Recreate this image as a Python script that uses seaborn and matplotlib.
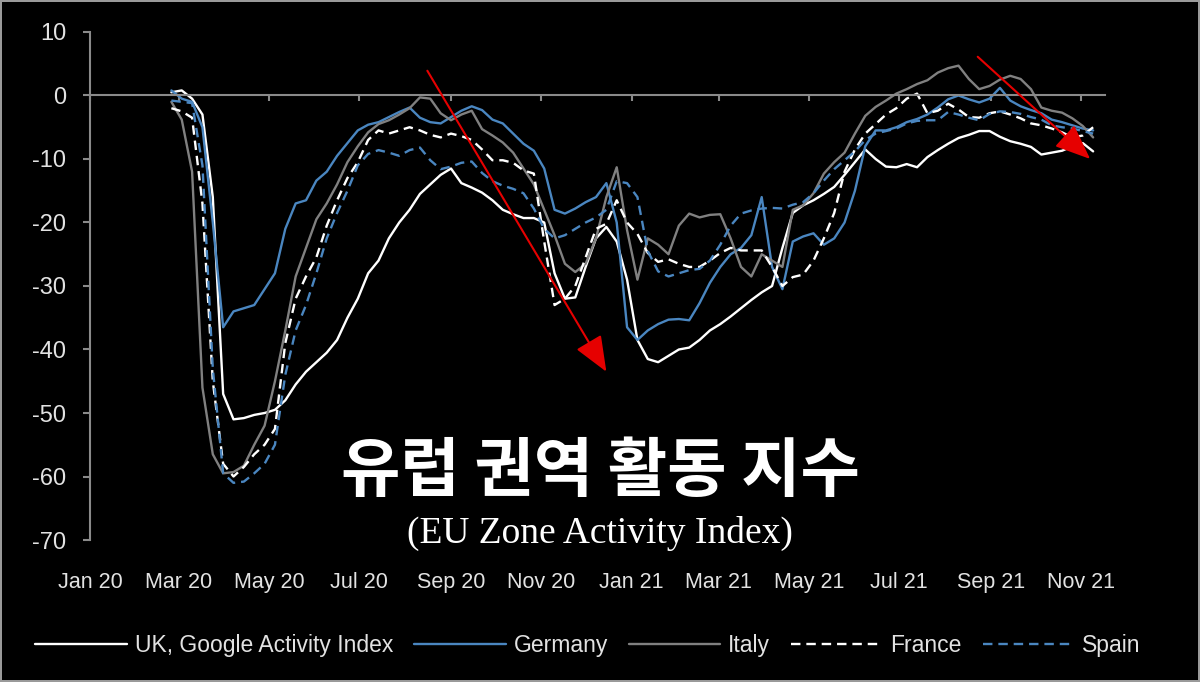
import pandas as pd
import numpy as np
import seaborn as sns
import matplotlib.pyplot as plt
import matplotlib.dates as mdates

# weekly readings, 25 Feb 2020 .. 9 Nov 2021
dates = pd.date_range('2020-02-25', periods=90, freq='7D')

uk = [0.5, 0.8, -0.5, -3, -16, -47, -51, -50.8, -50.3, -50,
      -49.5, -48, -45.5, -43.5, -42, -40.5, -38.5, -35, -32, -28,
      -26, -22.5, -20, -18, -15.5, -14, -12.5, -11.5, -13.8, -14.5,
      -15.3, -16.5, -18, -18.7, -19.3, -19.3, -20, -28, -32, -31.8,
      -27, -22.5, -20.7, -23, -29, -38.5, -41.5, -42, -41, -40,
      -39.7, -38.5, -37, -36, -34.8, -33.5, -32.2, -31, -30, -24,
      -18.5, -17.3, -16.5, -15.5, -14.4, -12.5, -10.5, -8.5, -10, -11.2,
      -11.3, -10.8, -11.3, -9.7, -8.6, -7.6, -6.7, -6.2, -5.6, -5.6,
      -6.5, -7.2, -7.6, -8.1, -9.3, -9, -8.7, -8, -7.5, -8.8]

germany = [0.8, -0.5, -1, -5, -20, -36.5, -34, -33.5, -33, -30.5,
           -28, -21, -17, -16.5, -13.4, -12, -9.5, -7.5, -5.5, -4.6,
           -4.2, -3.4, -2.6, -1.9, -3.5, -4.2, -4.4, -3.4, -2.4, -1.7,
           -2.3, -3.8, -4.4, -6, -7.6, -8.7, -11.5, -18, -18.6, -17.8,
           -16.8, -16, -13.8, -20, -36.5, -38.5, -37, -36, -35.3, -35.2,
           -35.4, -32.7, -29.5, -27, -25, -24, -22, -16, -27, -30.5,
           -23, -22.2, -21.7, -23.5, -22.5, -20, -15, -8, -5.5, -5.5,
           -5, -4.2, -3.7, -3, -1.9, -0.6, 0, -0.6, -1.1, -0.5,
           1.2, -0.8, -1.7, -2.3, -2.8, -3.8, -4.2, -4.7, -5.2, -5.5]

italy = [-1, -3.8, -12, -46, -56.5, -59.5, -59.3, -58.3, -55, -52,
         -45, -37, -28.5, -24, -19.5, -17, -14, -10.5, -8, -5.8,
         -4.5, -3.9, -3, -2, -0.3, -0.5, -2.8, -3.9, -3, -2.4,
         -5.3, -6.3, -7.4, -9, -11.5, -14, -18, -22, -26.5, -27.8,
         -26.5, -22.5, -16, -11.3, -21.2, -29, -22.5, -23.5, -25, -20.5,
         -18.6, -19.2, -18.8, -18.7, -22.5, -27, -28.5, -25, -26, -27,
         -18, -17.3, -15.4, -12.3, -10.5, -9, -6, -3.2, -1.8, -0.8,
         0.3, 1, 1.8, 2.4, 3.6, 4.3, 4.7, 2.6, 1, 1.5,
         2.5, 3.1, 2.6, 1, -1.9, -2.4, -2.7, -3.6, -4.8, -6.6]

france = [-2, -2.5, -3.5, -17, -45, -58, -60, -58.5, -56.5, -55,
          -52.5, -39, -32, -28.5, -25.5, -20.5, -16.5, -13, -10.5, -7,
          -5.5, -6, -5.5, -5, -5.5, -6.2, -6.6, -6, -6.4, -7,
          -8.5, -10.2, -10.2, -10.6, -11.8, -12.3, -23, -33, -32, -30,
          -25.5, -21, -20.2, -16.5, -20, -21.8, -24.8, -26.2, -25.8, -26.5,
          -27, -27, -26, -24.8, -24, -24.4, -24.4, -24.4, -27, -30,
          -28.6, -28.2, -26, -22.5, -18.5, -12, -8.5, -6, -4.5, -3,
          -2, -0.5, 0.3, -2.8, -2.4, -1.3, -2.2, -3.4, -3.5, -2.8,
          -2.5, -3, -3.6, -4.4, -4.7, -5.2, -5.8, -6.6, -6.3, -5]

spain = [-0.8, -1, -1.2, -11, -43, -59.5, -61, -60.8, -59.5, -58,
         -55, -44, -37, -33, -28, -22.5, -18.5, -15, -11, -9.2,
         -8.6, -9, -9.5, -8.6, -8.2, -10.2, -11.6, -11.2, -10.6, -10.4,
         -12.2, -13.5, -14.2, -14.7, -15.4, -17.8, -21, -22.5, -22, -21,
         -20, -19.2, -18, -13.5, -13.8, -16, -24.5, -27.7, -28.5, -28,
         -27.5, -27.3, -26, -23.5, -20.5, -18.6, -18.1, -17.8, -17.7, -17.8,
         -17.2, -16.8, -15.4, -13.4, -11.6, -10.2, -8.8, -7, -6, -5.6,
         -5.2, -4.4, -4, -3.9, -3.9, -2.6, -3, -3.5, -3.9, -2.9,
         -2.5, -2.6, -2.9, -3.4, -3.8, -4.7, -5, -5.2, -5.6, -6]

series_names = ['UK, Google Activity Index', 'Germany', 'Italy', 'France', 'Spain']
series_vals = [uk, germany, italy, france, spain]
colors = ['#ffffff', '#4a86c0', '#808080', '#ffffff', '#4a86c0']
styles = ['-', '-', '-', (0, (4, 2.5)), (0, (4, 2.5))]

# arrows (date, value) start -> end
arrow1 = (('2020-08-16', 3.9), ('2020-12-15', -43.5))
arrow2 = (('2021-08-23', 6.1), ('2021-11-07', -10.0))

sns.set_theme(style='dark')
plt.rcParams['font.family'] = ['Liberation Sans', 'DejaVu Sans']
plt.rcParams['axes.unicode_minus'] = False
txt_col = '#e2e2e2'

fig = plt.figure(figsize=(12, 6.82), dpi=100, facecolor='black',
                 edgecolor='#9a9a9a', linewidth=1.5)
ax = fig.add_axes([0.075, 0.2082, 0.8458, 0.7449])
ax.set_facecolor('black')

for name, vals, c, ls in zip(series_names, series_vals, colors, styles):
    sns.lineplot(x=dates, y=vals, ax=ax, color=c, linestyle=ls, lw=1.7, label=name)

ax.set_xlim(pd.Timestamp('2020-01-01'), pd.Timestamp('2021-11-17'))
ax.set_ylim(-70, 10)
ax.set_yticks(np.arange(-70, 11, 10))
ax.xaxis.set_major_locator(mdates.MonthLocator(bymonth=[1, 3, 5, 7, 9, 11]))
ax.xaxis.set_major_formatter(mdates.DateFormatter('%b %y'))
ax.grid(False)

for s in ['top', 'right']:
    ax.spines[s].set_visible(False)
ax.spines['left'].set_color('#8a8a8a')
ax.spines['left'].set_linewidth(1.5)
ax.spines['bottom'].set_position(('data', 0))
ax.spines['bottom'].set_color('#8a8a8a')
ax.spines['bottom'].set_linewidth(1.5)
ax.tick_params(axis='y', colors='#8a8a8a', labelcolor=txt_col, direction='out',
               length=5, width=1.5, left=True, labelsize=17, pad=12)
ax.tick_params(axis='x', colors='#8a8a8a', labelcolor=txt_col, direction='out',
               length=4, width=1.5, bottom=True, labelsize=15.5, pad=339)
ax.set_xlabel('')
ax.set_ylabel('')

for (d0, v0), (d1, v1) in [arrow1, arrow2]:
    ax.annotate('', xy=(pd.Timestamp(d1), v1), xytext=(pd.Timestamp(d0), v0),
                arrowprops=dict(arrowstyle='-|>,head_length=1.1,head_width=0.45',
                                color='#e60000', lw=1.5, mutation_scale=20,
                                shrinkA=0, shrinkB=0))

ax.legend_.remove()
handles, labels = ax.get_legend_handles_labels()
leg = fig.legend(handles, labels, loc='center', bbox_to_anchor=(0.49, 0.054), ncol=5,
                 frameon=False, fontsize=16.5, handlelength=4.0, handletextpad=0.35,
                 columnspacing=0.9)
for t in leg.get_texts():
    t.set_color(txt_col)

fig.text(0.5, 1 - 472 / 682, '유럽 권역 활동 지수', ha='center', va='center',
         color='white', fontsize=46.5, fontweight='bold',
         family=['Noto Sans CJK KR', 'DejaVu Sans'])
fig.text(0.5, 1 - 533 / 682, '(EU Zone Activity Index)', ha='center', va='center',
         color='white', fontsize=27, family=['Liberation Serif', 'DejaVu Serif'])

fig.savefig('out.png', dpi=100, facecolor='black')
